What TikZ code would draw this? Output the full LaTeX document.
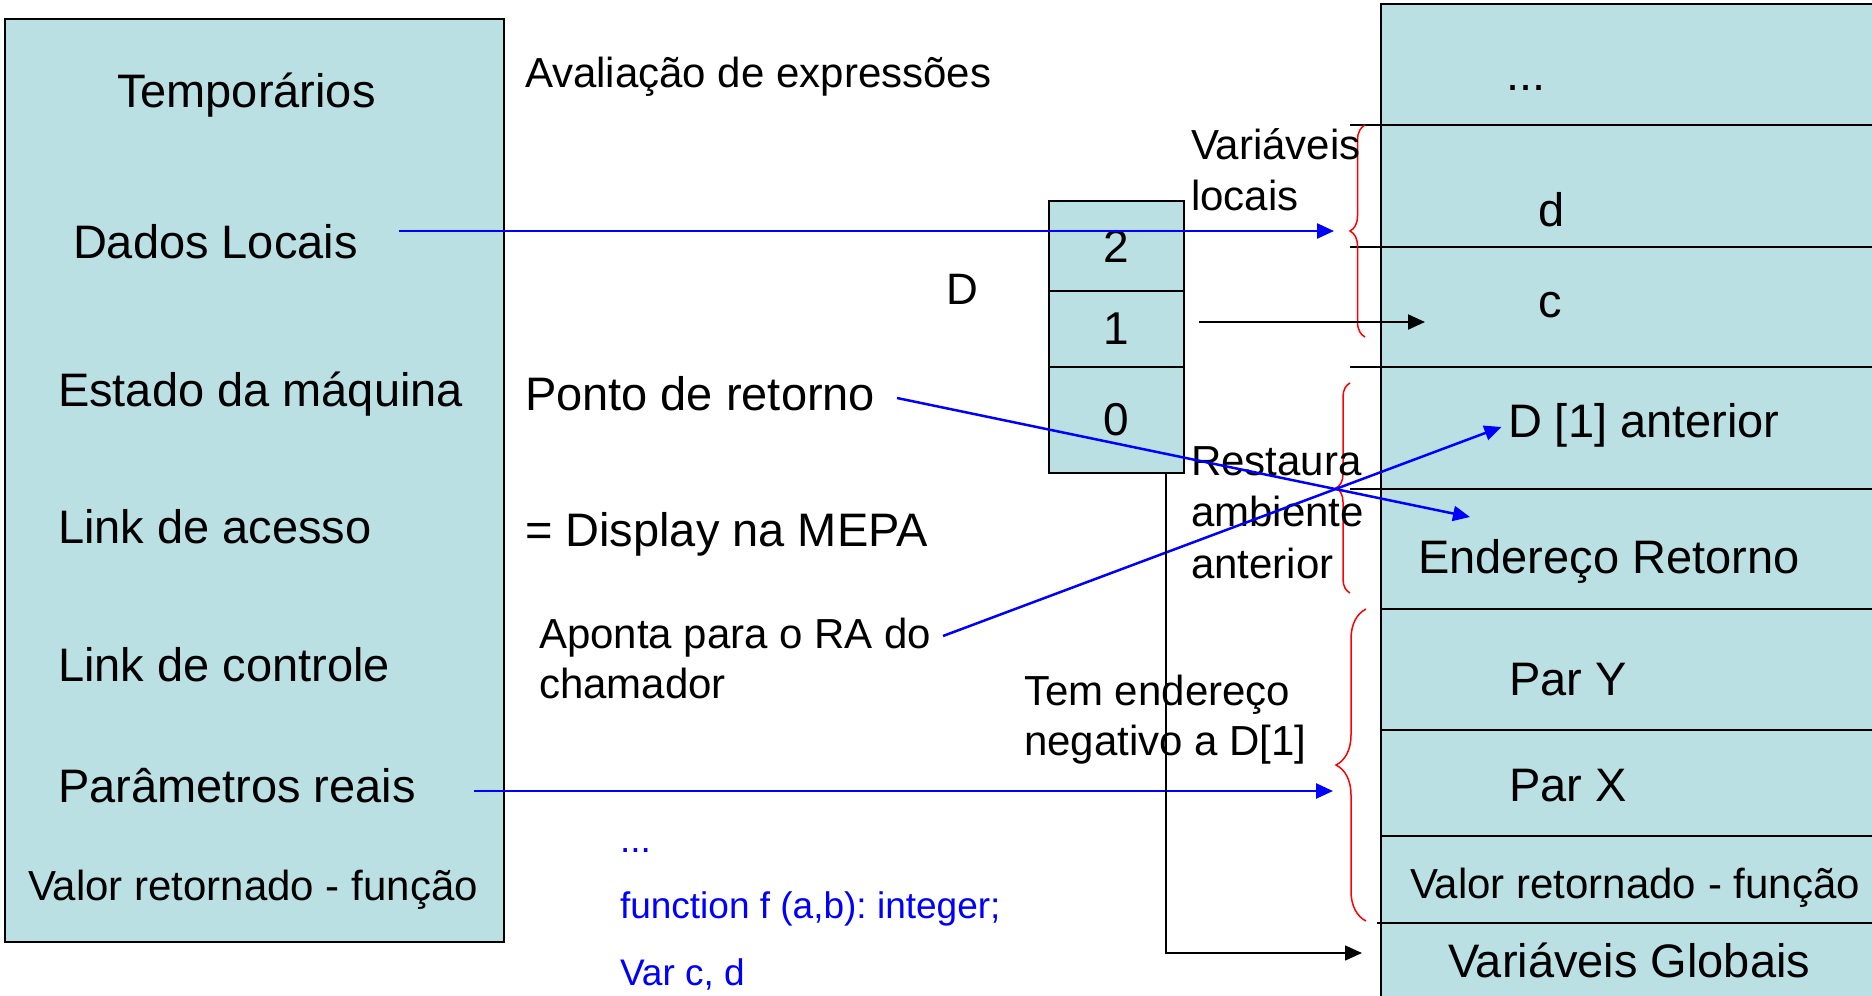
\documentclass[tikz,border=0pt]{standalone}
\usepackage{fontspec}
\setmainfont{Liberation Sans}
\usetikzlibrary{%
  arrows.meta,%
  decorations.pathreplacing,% braces
  positioning% wg. " of "
}
\definecolor{cellfill}{RGB}{187,224,227}
\newcommand{\sz}[2]{\fontsize{#1}{#2}\selectfont}
\frenchspacing

\begin{document}
\begin{tikzpicture}
[x=1pt, y=-1pt, line width=2pt,
box/.style={draw=black, line width=2pt, fill=cellfill},
lbl/.style={inner sep=0pt, anchor=base west, font=\sz{47}{56}},
lblsmall/.style={lbl, font=\sz{42}{51}},
note/.style={lbl, align=left, font=\sz{42}{#1}},
code/.style={lbl, align=left, text=blue, font=\sz{37}{66.5}},
dcell/.style={box, outer sep=0pt, inner sep=0pt, minimum width=135pt, font=\sz{46}{55}},
bluearrow/.style={draw=blue, line width=2.5pt, -{Triangle[length=17pt,width=15pt]}},
blackarrow/.style={draw=black, line width=2pt, -{Triangle[length=17pt,width=15pt]}},
curly/.style={draw=red, line width=1.5pt, decorate, decoration={brace, amplitude=#1}}]

\useasboundingbox (0,0) rectangle (1872,996);

% registro de ativacao (esquerda)
\draw[box] (5,19) rectangle (504,942);
\node[lbl] (temp) at (116,107) {Temporários};
\node[lbl] (dados) at (72,258) {Dados Locais};
\node[lbl] (estado) at (57,406) {Estado da máquina};
\node[lbl] (acesso) at (57,543) {Link de acesso};
\node[lbl] (controle) at (57,681) {Link de controle};
\node[lbl] (param) at (57,802) {Parâmetros reais};
\node[lblsmall] (valor) at (27,900) {Valor retornado - função};

% comentarios do meio (base = ultima linha)
\node[lblsmall] (aval) at (524,87) {Avaliação de expressões};
\node[lbl] (ponto) at (524,410) {Ponto de retorno};
\node[lbl] (display) at (524,546) {= Display na MEPA};
\node[note=50] (aponta) at (538,698) {Aponta para o RA do\\chamador};
\node[code] (codigo) at (619,985) {...\\function f (a,b): integer;\\Var c, d};

% display D
\node[lbl, anchor=base, font=\sz{44}{53}] (dname) at (962,304) {D};
\node[dcell, minimum height=90pt] (d2) at (1116,246) {2};
\node[dcell, minimum height=76pt, below=0pt of d2] (d1) {1};
\node[dcell, minimum height=106pt, below=0pt of d1] (d0) {0};

% pilha (direita)
\fill[cellfill] (1381,4) rectangle (1872,996);
\draw (1872,4) -- (1381,4) -- (1381,996);
\foreach \y/\x in {125/1350, 247/1350, 367/1350, 489/1350, 609/1381, 730/1381, 836/1381, 923/1377}
  \draw (\x,\y) -- (1872,\y);

\node[lbl, anchor=base] (dots) at (1526,90) {...};
\node[lbl] (vard) at (1537,226) {d};
\node[lbl] (varc) at (1537,317) {c};
\node[lbl] (dant) at (1507,437) {D [1] anterior};
\node[lbl] (endret) at (1417,573) {Endereço Retorno};
\node[lbl] (pary) at (1508,695) {Par Y};
\node[lbl] (parx) at (1508,801) {Par X};
\node[lblsmall] (valret) at (1409,898) {Valor retornado - função};
\node[lbl] (globais) at (1447,977) {Variáveis Globais};

% chaves
\draw[curly=15pt] (1365,337) -- (1365,125);
\draw[curly=14pt] (1350,593) -- (1350,383);
\draw[curly=30pt] (1366,921) -- (1366,609);

\node[note=51] (varloc) at (1190,210) {Variáveis\\locais};
\node[note=51.5] (restaura) at (1190,578) {Restaura\\ambiente\\anterior};
\node[note=50] (temend) at (1023,755) {Tem endereço\\negativo a D[1]};

% setas
\coordinate (dl-out) at (399,231);
\coordinate (dl-in) at (1334,231);
\coordinate (pr-out) at (474,791);
\coordinate (pr-in) at (1333,791);
\coordinate (pt-out) at (897,398);
\coordinate (pt-in) at (1470,517);
\coordinate (ap-out) at (943,636);
\coordinate (d1-out) at (1199,322);
\coordinate (c-in) at (1425,322);
\coordinate (dlink) at (1166,473);
\coordinate (gl-in) at (1362,953);

\draw[bluearrow] (dl-out) -- (dl-in);
\draw[bluearrow] (pr-out) -- (pr-in);
\draw[bluearrow] (pt-out) -- (pt-in);
\draw[bluearrow, shorten >=6pt] (ap-out) -- (dant.west);
\draw[blackarrow] (d1-out) -- (c-in);
\draw[blackarrow, line width=1.5pt] (dlink) |- (gl-in);
\end{tikzpicture}
\end{document}
